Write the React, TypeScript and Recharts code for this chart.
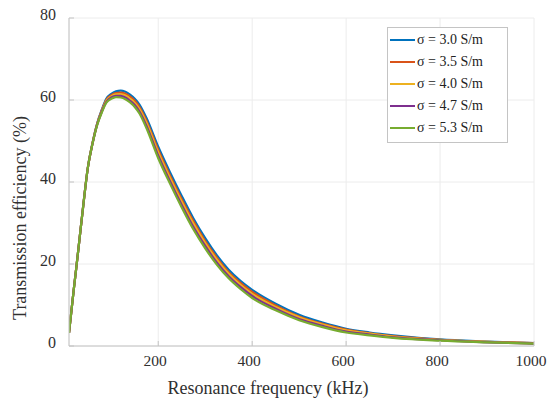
import React from 'react';
import { LineChart, Line, XAxis, YAxis, CartesianGrid, Legend } from 'recharts';

const frequency = [10, 20, 30, 40, 50, 60, 70, 80, 90, 100, 110, 120, 130, 140, 150, 160, 175, 200, 225, 250, 275, 300, 325, 350, 375, 400, 450, 500, 550, 600, 650, 700, 800, 900, 1000];

const sigma30 = [3.2, 13.6, 23.6, 33.9, 43.4, 49.5, 54.3, 57.7, 60.4, 61.5, 62.1, 62.3, 62.0, 61.3, 60.3, 58.9, 55.6, 48.6, 42.4, 36.6, 31.1, 26.3, 22.1, 18.6, 15.9, 13.7, 10.3, 7.6, 5.7, 4.2, 3.3, 2.6, 1.6, 1.1, 0.7];
const sigma35 = [3.2, 13.6, 23.6, 33.9, 43.4, 49.4, 54.2, 57.5, 60.1, 61.2, 61.7, 61.8, 61.5, 60.8, 59.8, 58.3, 54.9, 47.8, 41.6, 35.8, 30.4, 25.6, 21.5, 18.0, 15.4, 13.2, 9.9, 7.2, 5.4, 4.0, 3.1, 2.4, 1.5, 1.0, 0.7];
const sigma40 = [3.2, 13.6, 23.6, 33.9, 43.4, 49.4, 54.1, 57.3, 59.9, 60.9, 61.4, 61.4, 61.1, 60.3, 59.3, 57.8, 54.4, 47.2, 41.0, 35.2, 29.8, 25.1, 21.0, 17.6, 14.9, 12.7, 9.5, 7.0, 5.2, 3.8, 3.0, 2.3, 1.5, 1.0, 0.65];
const sigma47 = [3.2, 13.6, 23.6, 33.9, 43.4, 49.3, 54.0, 57.2, 59.6, 60.6, 61.0, 61.0, 60.6, 59.8, 58.8, 57.2, 53.7, 46.4, 40.2, 34.4, 29.0, 24.4, 20.3, 17.0, 14.4, 12.2, 9.1, 6.6, 4.9, 3.5, 2.8, 2.1, 1.4, 0.9, 0.6];
const sigma53 = [3.2, 13.6, 23.6, 33.9, 43.4, 49.3, 53.9, 57.0, 59.4, 60.3, 60.7, 60.6, 60.2, 59.4, 58.3, 56.7, 53.1, 45.8, 39.6, 33.8, 28.4, 23.8, 19.8, 16.5, 13.9, 11.7, 8.7, 6.3, 4.6, 3.3, 2.6, 2.0, 1.3, 0.9, 0.6];

const xTicks = [200, 400, 600, 800, 1000];
const yTicks = [0, 20, 40, 60, 80];

const seriesNames = ['σ = 3.0 S/m', 'σ = 3.5 S/m', 'σ = 4.0 S/m', 'σ = 4.7 S/m', 'σ = 5.3 S/m'];
const seriesValues = [sigma30, sigma35, sigma40, sigma47, sigma53];
const seriesColors = ['#0072BD', '#D95319', '#EDB120', '#7E2F8E', '#77AC30'];

const data = frequency.map((f, i) => {
  const row: Record<string, number> = { f };
  seriesValues.forEach((vals, k) => {
    row['s' + k] = vals[i];
  });
  return row;
});

const FONT = '"Liberation Serif", "Times New Roman", serif';
const AXIS_COLOR = '#c4c4c4';
const TEXT_COLOR = '#303030';

const XTick = (props: any) => {
  const { x, y, payload } = props;
  return (
    <g>
      <line x1={x} y1={y} x2={x} y2={y - 5} stroke={AXIS_COLOR} strokeWidth={1} />
      <text x={x - 3} y={y + 14} textAnchor="middle" dominantBaseline="central" fontFamily={FONT} fontSize={15.5} fill={TEXT_COLOR}>
        {payload.value}
      </text>
    </g>
  );
};

const YTick = (props: any) => {
  const { x, y, payload } = props;
  return (
    <g>
      <line x1={x} y1={y} x2={x + 5} y2={y} stroke={AXIS_COLOR} strokeWidth={1} />
      <text x={x - 13} y={y - 4} textAnchor="end" dominantBaseline="central" fontFamily={FONT} fontSize={16} fill={TEXT_COLOR}>
        {payload.value}
      </text>
    </g>
  );
};

const TopTick = (props: any) => {
  const { x, y } = props;
  return <line x1={x} y1={y} x2={x} y2={y + 5} stroke={AXIS_COLOR} strokeWidth={1} />;
};

const RightTick = (props: any) => {
  const { x, y } = props;
  return <line x1={x} y1={y} x2={x - 5} y2={y} stroke={AXIS_COLOR} strokeWidth={1} />;
};

const LegendBox = (props: any) => {
  const { payload } = props;
  return (
    <div
      style={{
        border: '1px solid #c4c4c4',
        background: '#ffffff',
        width: 121,
        padding: '1px 0 3px 0',
        fontFamily: FONT,
        fontSize: 14,
        color: '#222',
        boxSizing: 'border-box',
      }}
    >
      {(payload || []).map((entry: any) => (
        <div key={entry.value} style={{ display: 'flex', alignItems: 'center', height: 22 }}>
          <div style={{ width: 25, height: 2, background: entry.color, marginLeft: 2, marginRight: 2 }} />
          <span style={{ whiteSpace: 'nowrap' }}>{entry.value}</span>
        </div>
      ))}
    </div>
  );
};

export default function App() {
  return (
    <div style={{ position: 'absolute', left: 0, top: 0, width: 550, height: 402, overflow: 'hidden' }}>
      <LineChart width={550} height={402} data={data} margin={{ top: 18, right: 16, left: 0, bottom: 0 }}>
        <CartesianGrid stroke="#ececec" strokeWidth={1} />
        <XAxis
          dataKey="f"
          type="number"
          domain={[10, 1000]}
          ticks={xTicks}
          allowDataOverflow
          height={56}
          tickSize={0}
          tickMargin={0}
          tick={XTick}
          axisLine={{ stroke: AXIS_COLOR }}
          label={(p: any) => {
            const vb = p.viewBox;
            return (
              <text x={vb.x + 199} y={vb.y + 42} textAnchor="middle" dominantBaseline="central" fontFamily={FONT} fontSize={18} fill={TEXT_COLOR}>
                Resonance frequency (kHz)
              </text>
            );
          }}
        />
        <XAxis
          xAxisId="top"
          orientation="top"
          dataKey="f"
          type="number"
          domain={[10, 1000]}
          ticks={xTicks}
          height={0}
          tickSize={0}
          tickMargin={0}
          tick={TopTick}
          axisLine={{ stroke: AXIS_COLOR }}
        />
        <YAxis
          type="number"
          domain={[0, 80]}
          ticks={yTicks}
          width={69}
          tickSize={0}
          tickMargin={0}
          tick={YTick}
          axisLine={{ stroke: AXIS_COLOR }}
          label={(p: any) => {
            const vb = p.viewBox;
            const cx = 20;
            const cy = vb.y + 200;
            return (
              <text x={cx} y={cy} transform={`rotate(-90 ${cx} ${cy})`} textAnchor="middle" dominantBaseline="central" fontFamily={FONT} fontSize={18} fill={TEXT_COLOR}>
                Transmission efficiency (%)
              </text>
            );
          }}
        />
        <YAxis
          yAxisId="right"
          orientation="right"
          type="number"
          domain={[0, 80]}
          ticks={yTicks}
          width={0}
          tickSize={0}
          tickMargin={0}
          tick={RightTick}
          axisLine={{ stroke: AXIS_COLOR }}
        />
        <Legend
          layout="vertical"
          verticalAlign="middle"
          align="center"
          content={LegendBox}
          wrapperStyle={{ position: 'absolute', left: 387, top: 27, width: 'auto', height: 'auto' }}
        />
        {seriesNames.map((name, k) => (
          <Line
            key={name}
            type="monotone"
            dataKey={'s' + k}
            name={name}
            stroke={seriesColors[k]}
            strokeWidth={2.2}
            dot={false}
            isAnimationActive={false}
          />
        ))}
      </LineChart>
    </div>
  );
}
